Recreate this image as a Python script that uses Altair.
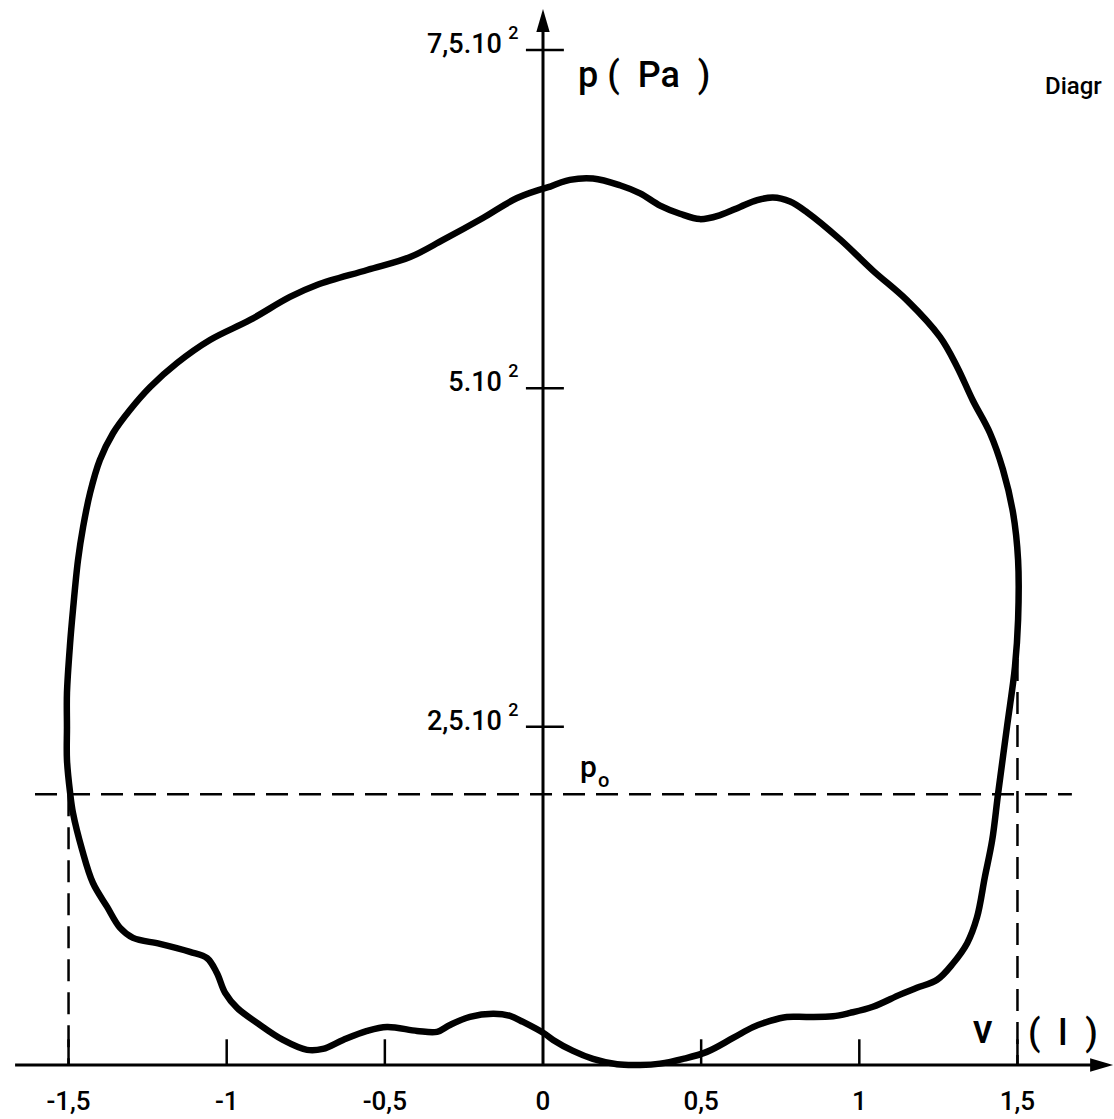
import altair as alt
import pandas as pd

# p–v loop: volume (l) and pressure (Pa), traced clockwise from the top of the p axis
V_LOOP = [0.022, 0.085, 0.158, 0.243, 0.307, 0.370, 0.433, 0.496, 0.560, 0.623,
          0.677, 0.727, 0.781, 0.835, 0.939, 1.043, 1.151, 1.255, 1.309, 1.359,
          1.413, 1.454, 1.486, 1.502, 1.502, 1.492, 1.467, 1.439, 1.420, 1.397,
          1.372, 1.341, 1.296, 1.246, 1.182, 1.129, 1.043, 0.971, 0.917, 0.835,
          0.771, 0.718, 0.664, 0.601, 0.518, 0.443, 0.370, 0.307, 0.234, 0.158,
          0.095, 0.032, 0.006, -0.063, -0.104, -0.158, -0.231, -0.294, -0.335, -0.398,
          -0.493, -0.556, -0.632, -0.696, -0.746, -0.822, -0.904, -0.967, -1.005, -1.031,
          -1.062, -1.116, -1.211, -1.296, -1.337, -1.378, -1.423, -1.457, -1.486, -1.495,
          -1.505, -1.505, -1.505, -1.495, -1.486, -1.470, -1.454, -1.432, -1.401, -1.359,
          -1.306, -1.242, -1.157, -1.053, -0.926, -0.800, -0.715, -0.556, -0.420, -0.316,
          -0.190, -0.082, 0.022]
P_LOOP = [649, 654, 655, 650, 644, 635, 629, 625, 628, 634,
          639, 641, 638, 630, 610, 587, 565, 538, 516, 491,
          467, 440, 408, 373, 329, 294, 250, 201, 166, 139,
          109, 90, 75, 63, 57, 52, 43, 38.5, 36, 35.5,
          35.5, 32.6, 28, 20, 9.7, 4.5, 1, 0, 0.5, 4.5,
          10.4, 18.5, 23, 31.8, 36.3, 37.8, 35.5, 29.6, 24.5, 25.2,
          28.1, 25.2, 18.5, 11.9, 11.2, 18.5, 31.1, 42.2, 53.3, 68,
          79, 83.6, 89.5, 93.9, 101.3, 116.8, 134.5, 158.9, 186.2, 201,
          225.4, 249.8, 274.9, 311.8, 336.2, 373.2, 397.5, 422.6, 447, 467,
          484, 501, 518.7, 535.7, 550.5, 567.5, 576.3, 587.4, 597, 609.6,
          625.8, 640.6, 649]

X_TICK_VALUES = [-1.5, -1.0, -0.5, 0.0, 0.5, 1.0, 1.5]
X_TICK_LABELS = ["-1,5", "-1", "-0,5", "0", "0,5", "1", "1,5"]
Y_TICK_VALUES = [250, 500, 750]
Y_TICK_LABELS = ["2,5.10", "5.10", "7,5.10"]

P0 = 200                    # reference pressure p0
V_LIMITS = [-1.5, 1.5]      # volume limits marked down to the v axis
V_LIMIT_TOPS = [200, 300]

X_RANGE = [-1.7167, 1.8052]
Y_RANGE = [-39.9, 786.9]

FONT = "Roboto"
INK = "black"
SP = "\u00a0"  # non-collapsing space for the wide-set unit labels

xs = alt.Scale(domain=X_RANGE, nice=False, zero=False)
ys = alt.Scale(domain=Y_RANGE, nice=False, zero=False)


def X(field):
    return alt.X(field, type="quantitative", scale=xs, axis=None)


def Y(field):
    return alt.Y(field, type="quantitative", scale=ys, axis=None)


# the loop itself
loop_df = pd.DataFrame({"v": V_LOOP, "p": P_LOOP, "i": range(len(V_LOOP))})
loop = alt.Chart(loop_df).mark_line(
    color=INK, strokeWidth=6.5, interpolate="catmull-rom",
    strokeCap="round", strokeJoin="round"
).encode(x=X("v"), y=Y("p"), order="i:Q")

# axis lines crossing at the origin
axes_df = pd.DataFrame({"a": [-1.669, 0.0], "b": [1.74, 0.0],
                        "c": [0.0, 0.0], "d": [0.0, 764.0]})
axes = alt.Chart(axes_df).mark_rule(color=INK, strokeWidth=3).encode(
    x=X("a"), x2="b", y=Y("c"), y2="d")

# arrow heads
arrow_up = "M0,-1L0.58,1L-0.58,1Z"
arrow_right = "M1,0L-1,0.58L-1,-0.58Z"
up_head = alt.Chart(pd.DataFrame({"v": [0.0], "p": [771.7]})).mark_point(
    shape=arrow_up, size=529, filled=True, color=INK, opacity=1, strokeWidth=0
).encode(x=X("v"), y=Y("p"))
right_head = alt.Chart(pd.DataFrame({"v": [1.766], "p": [0.0]})).mark_point(
    shape=arrow_right, size=529, filled=True, color=INK, opacity=1, strokeWidth=0
).encode(x=X("v"), y=Y("p"))

# v-axis ticks (upward only)
xt_df = pd.DataFrame({"v": [t for t in X_TICK_VALUES if t != 0],
                      "lo": 0.0, "hi": 19.0})
x_ticks = alt.Chart(xt_df).mark_rule(color=INK, strokeWidth=2.5).encode(
    x=X("v"), y=Y("lo"), y2="hi")

# p-axis ticks (crossing the axis)
yt_df = pd.DataFrame({"p": Y_TICK_VALUES, "l": -0.054, "r": 0.066})
y_ticks = alt.Chart(yt_df).mark_rule(color=INK, strokeWidth=2.5).encode(
    x=X("l"), x2="r", y=Y("p"))

# dashed construction lines
p0_df = pd.DataFrame({"l": [-1.606], "r": [1.672], "p": [P0]})
p0_line = alt.Chart(p0_df).mark_rule(
    color=INK, strokeWidth=2.5, strokeDash=[22, 11]
).encode(x=X("l"), x2="r", y=Y("p"))

lim_df = pd.DataFrame({"v": V_LIMITS, "top": V_LIMIT_TOPS, "bot": 0.0})
lim_lines = alt.Chart(lim_df).mark_rule(
    color=INK, strokeWidth=2.5, strokeDash=[22, 11]
).encode(x=X("v"), y=Y("top"), y2="bot")

# tick labels
xl_df = pd.DataFrame({"v": X_TICK_VALUES, "t": X_TICK_LABELS, "p": 0.0})
x_labels = alt.Chart(xl_df).mark_text(
    font=FONT, fontSize=26, fontWeight=500, color=INK,
    align="center", baseline="alphabetic", dy=45
).encode(x=X("v"), y=Y("p"), text="t:N")

yl_df = pd.DataFrame({"p": Y_TICK_VALUES, "t": Y_TICK_LABELS,
                      "v": -0.130, "s": -0.110, "e": "2"})
y_labels = alt.Chart(yl_df).mark_text(
    font=FONT, fontSize=27, fontWeight=500, color=INK,
    align="right", baseline="middle", dy=-5
).encode(x=X("v"), y=Y("p"), text="t:N")
y_powers = alt.Chart(yl_df).mark_text(
    font=FONT, fontSize=18, fontWeight=500, color=INK,
    align="left", baseline="middle", dy=-16
).encode(x=X("s"), y=Y("p"), text="e:N")


def note(text, v, p, size):
    df = pd.DataFrame({"v": [v], "p": [p], "t": [text]})
    return alt.Chart(df).mark_text(
        font=FONT, fontSize=size, fontWeight=500, color=INK,
        align="left", baseline="alphabetic"
    ).encode(x=X("v"), y=Y("p"), text="t:N")


notes = [
    note(f"p{SP}({SP}{SP}Pa{SP}{SP})", 0.111, 722.6, 36),
    note("Diagr", 1.587, 717.4, 24),
    note("v", 1.359, 16.3, 40),
    note(f"({SP}{SP}l{SP}{SP})", 1.533, 14.8, 36),
    note("p", 0.117, 212.8, 30),
    note("o", 0.174, 205.4, 20),
]

chart = alt.layer(
    p0_line, lim_lines, axes, x_ticks, y_ticks, up_head, right_head,
    loop, x_labels, y_labels, y_powers, *notes
).properties(
    width=1114, height=1119, padding=0, autosize="none", background="white"
).configure_view(stroke=None)

chart.save("out.html", embed_options={"renderer": "svg", "actions": False})
